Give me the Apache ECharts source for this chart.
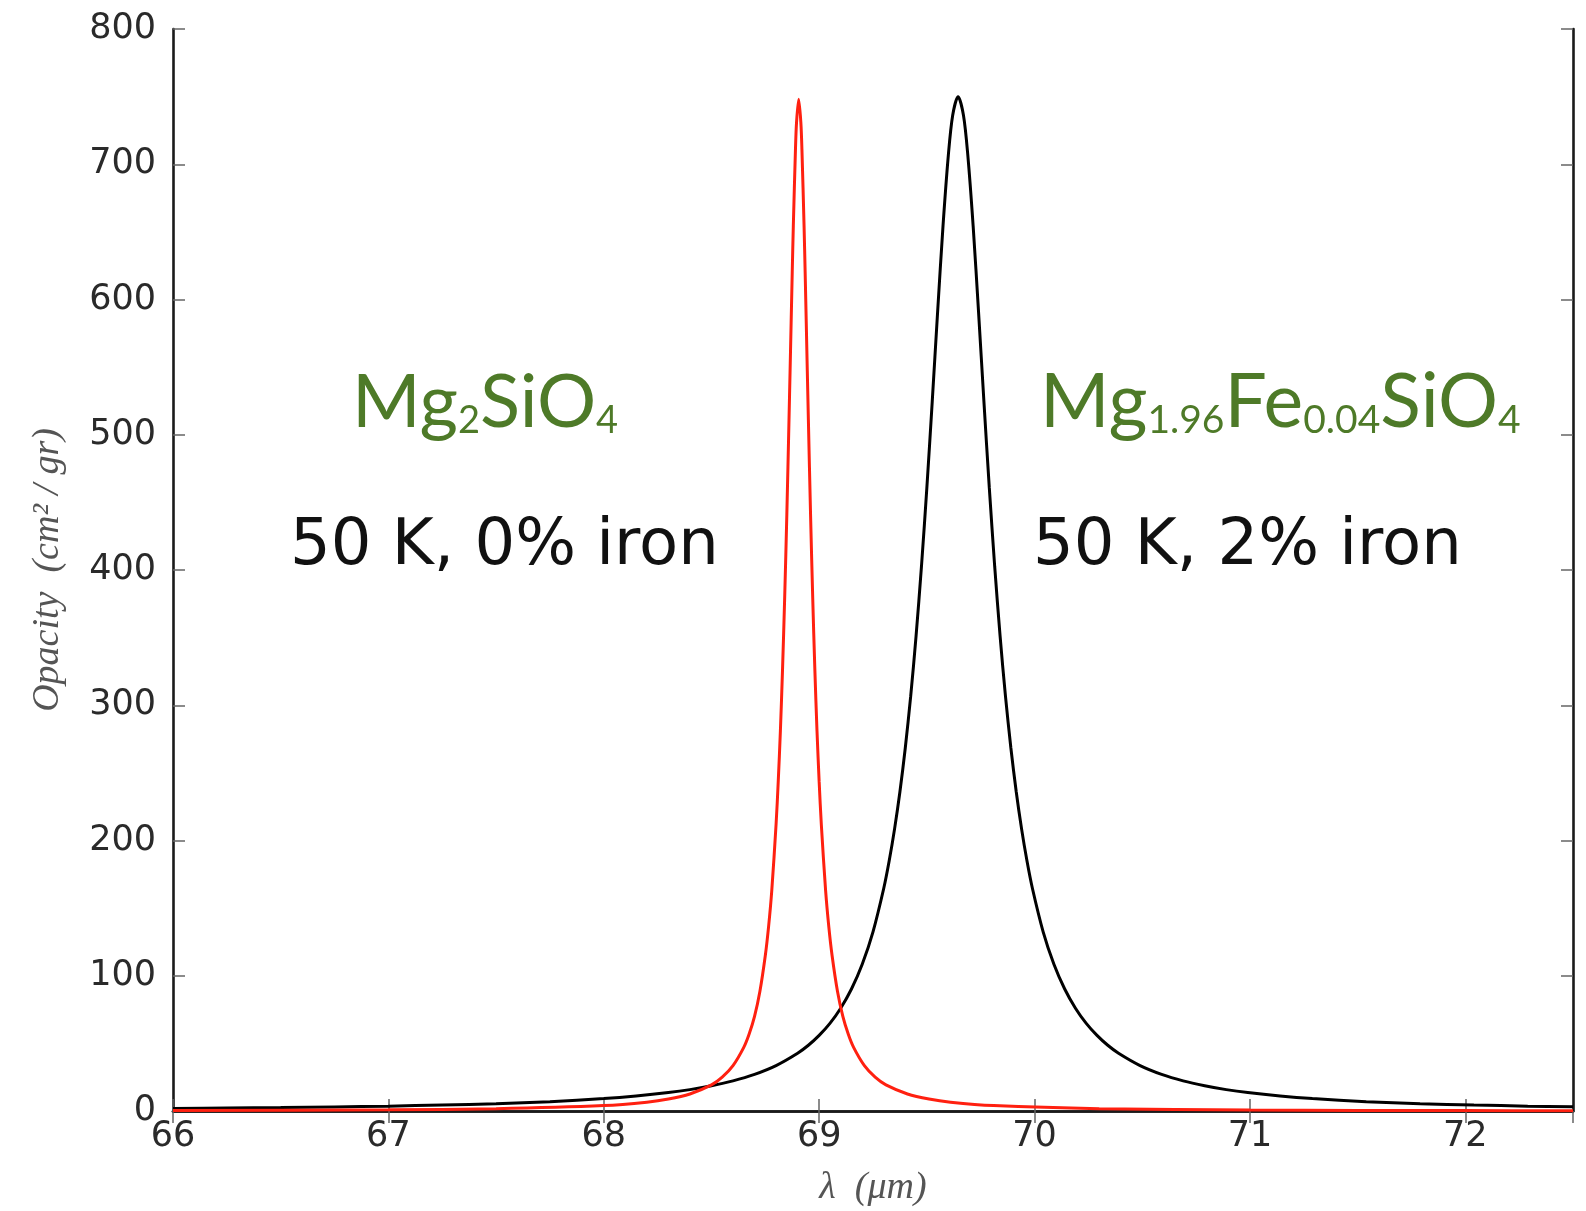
<!DOCTYPE html>
<html>
<head>
<meta charset="utf-8">
<script src="https://cdn.jsdelivr.net/npm/echarts@6/dist/echarts.min.js"></script>
<style>
  html, body { margin: 0; padding: 0; background: #fff; }
  #chart { width: 1586px; height: 1211px; }
</style>
</head>
<body>
<div id="chart"></div>
<script>
// Forsterite (Mg2SiO4), 50 K, 0% iron: wavelength (µm) and opacity (cm^2/gr)
const pureX = [66.0, 67.0, 67.5, 68.0, 68.2, 68.3, 68.4, 68.5, 68.55, 68.6, 68.65, 68.675, 68.7, 68.725, 68.75, 68.765, 68.78, 68.8, 68.81,
               68.82, 68.83, 68.84, 68.85, 68.86, 68.865, 68.875, 68.88, 68.89, 68.895, 68.905,
               68.915, 68.92, 68.93, 68.935, 68.945, 68.95, 68.96, 68.97, 68.98, 68.99, 69.0, 69.01, 69.03, 69.045, 69.06,
               69.085, 69.11, 69.135, 69.16, 69.21, 69.26, 69.31, 69.41, 69.51, 69.61, 69.81, 70.3, 71.0, 72.0, 72.5];
const pureY = [0.4, 0.9, 1.7, 4.0, 6.5, 8.8, 12.6, 19.3, 25.0, 33.5, 47, 56.9, 70, 88.6, 115, 136, 163, 212, 243.5,
               281, 326.5, 380, 441.4, 511, 547, 620, 654, 711, 731, 748,
               731, 711, 654, 620, 547, 511, 441.4, 380, 326.5, 281, 243.5, 212, 163, 136, 115,
               88.6, 70, 56.9, 47, 33.5, 25.0, 19.3, 12.6, 8.8, 6.5, 4.0, 1.7, 0.7, 0.3, 0.25];

// Mg1.96Fe0.04SiO4, 50 K, 2% iron
const ironX = [66.0, 66.25, 66.5, 66.75, 67.0, 67.25, 67.5, 67.75, 68.0, 68.15, 68.3, 68.4, 68.5, 68.6, 68.7, 68.8, 68.9, 68.95, 69.0,
               69.05, 69.1, 69.15, 69.2, 69.25, 69.3, 69.325, 69.35, 69.375, 69.4, 69.425, 69.45, 69.475, 69.5, 69.525, 69.55,
               69.575, 69.6, 69.62, 69.645, 69.67, 69.69, 69.715, 69.74, 69.765, 69.79, 69.815, 69.84, 69.865, 69.89, 69.915,
               69.94, 69.965, 69.99, 70.04, 70.09, 70.14, 70.19, 70.24, 70.29, 70.34, 70.39, 70.49, 70.59, 70.69, 70.79, 70.89,
               70.99, 71.14, 71.29, 71.54, 71.79, 72.04, 72.29, 72.5];
const ironY = [1.9, 2.2, 2.5, 3.0, 3.6, 4.4, 5.4, 6.9, 9.2, 11.1, 13.6, 15.8, 18.7, 22.3, 27.1, 33.6, 42.7, 48.6, 55.9,
               64.8, 76, 90.2, 108.5, 132.5, 164.7, 184.8, 208.4, 236, 268.6, 306.7, 351.3, 402.6, 460.7, 524.5, 590.8,
               654.3, 707.2, 736.3, 750, 736.3, 707.2, 654.3, 590.8, 524.5, 460.7, 402.6, 351.3, 306.7, 268.6, 236,
               208.4, 184.8, 164.7, 132.5, 108.5, 90.2, 76, 64.8, 55.9, 48.6, 42.7, 33.6, 27.1, 22.3, 18.7, 15.8,
               13.6, 11.1, 9.2, 6.9, 5.4, 4.4, 3.6, 3.1];

// Axis ticks
const xTicks = { min: 66, max: 72.5, step: 1 };
const yTicks = { min: 0, max: 800, step: 100 };

const zip = (xs, ys) => xs.map((x, i) => [x, ys[i]]);

const frameLine = () => ({ show: true, lineStyle: { color: '#1a1a1a', width: 2.6 } });
const innerTick = () => ({ show: true, inside: true, length: 12, lineStyle: { color: '#666', width: 1.5 } });
const tickFont = { fontFamily: 'DejaVu Sans', fontSize: 35, color: '#2a2a2a' };
const nameFont = { fontFamily: 'Liberation Serif', fontStyle: 'italic', fontSize: 38, color: '#555' };

const chart = echarts.init(document.getElementById('chart'), null, { renderer: 'canvas' });

chart.setOption({
  animation: false,
  backgroundColor: '#fff',
  grid: { left: 173, right: 13, top: 29, bottom: 100, containLabel: false, outerBoundsMode: 'none' },
  xAxis: [
    {
      type: 'value', position: 'bottom', min: xTicks.min, max: xTicks.max, interval: xTicks.step,
      axisLine: frameLine(), axisTick: innerTick(), splitLine: { show: false },
      axisLabel: Object.assign({ margin: 8, showMaxLabel: false }, tickFont),
      name: 'λ  (μm)', nameLocation: 'middle', nameGap: 58, nameTextStyle: nameFont
    },
    {
      type: 'value', position: 'top', min: xTicks.min, max: xTicks.max, interval: xTicks.step,
      axisLine: frameLine(), axisTick: innerTick(), splitLine: { show: false }, axisLabel: { show: false }
    }
  ],
  yAxis: [
    {
      type: 'value', position: 'left', min: yTicks.min, max: yTicks.max, interval: yTicks.step,
      axisLine: frameLine(), axisTick: innerTick(), splitLine: { show: false },
      axisLabel: Object.assign({ margin: 17 }, tickFont),
      name: 'Opacity  (cm² / gr)', nameLocation: 'middle', nameGap: 106, nameTextStyle: nameFont
    },
    {
      type: 'value', position: 'right', min: yTicks.min, max: yTicks.max, interval: yTicks.step,
      axisLine: frameLine(), axisTick: innerTick(), splitLine: { show: false }, axisLabel: { show: false }
    }
  ],
  series: [
    {
      name: '50 K, 2% iron', type: 'line', xAxisIndex: 0, yAxisIndex: 0,
      data: zip(ironX, ironY), showSymbol: false, smooth: 0.3,
      lineStyle: { color: '#000', width: 3 }, z: 3
    },
    {
      name: '50 K, 0% iron', type: 'line', xAxisIndex: 0, yAxisIndex: 0,
      data: zip(pureX, pureY), showSymbol: false, smooth: 0.3,
      lineStyle: { color: '#ff2010', width: 3 }, z: 4
    }
  ],
  graphic: [
    {
      type: 'text', x: 352, y: 440,
      style: {
        text: '{m|Mg}{s|2}{m|SiO}{s|4}', verticalAlign: 'bottom',
        rich: {
          m: { fontFamily: 'Lato', fontSize: 74, fill: '#4e7a28', verticalAlign: 'bottom' },
          s: { fontFamily: 'Lato', fontSize: 38, fill: '#4e7a28', verticalAlign: 'bottom' }
        }
      }
    },
    {
      type: 'text', x: 1040, y: 440,
      style: {
        text: '{m|Mg}{s|1.96}{m|Fe}{s|0.04}{m|SiO}{s|4}', verticalAlign: 'bottom',
        rich: {
          m: { fontFamily: 'Lato', fontSize: 75, fill: '#4e7a28', verticalAlign: 'bottom' },
          s: { fontFamily: 'Lato', fontSize: 39, fill: '#4e7a28', verticalAlign: 'bottom' }
        }
      }
    },
    {
      type: 'text', x: 290, y: 547,
      style: { text: '50 K, 0% iron', fontFamily: 'DejaVu Sans', fontSize: 64, fill: '#111', verticalAlign: 'middle' }
    },
    {
      type: 'text', x: 1033, y: 547,
      style: { text: '50 K, 2% iron', fontFamily: 'DejaVu Sans', fontSize: 64, fill: '#111', verticalAlign: 'middle' }
    }
  ]
});
</script>
</body>
</html>
